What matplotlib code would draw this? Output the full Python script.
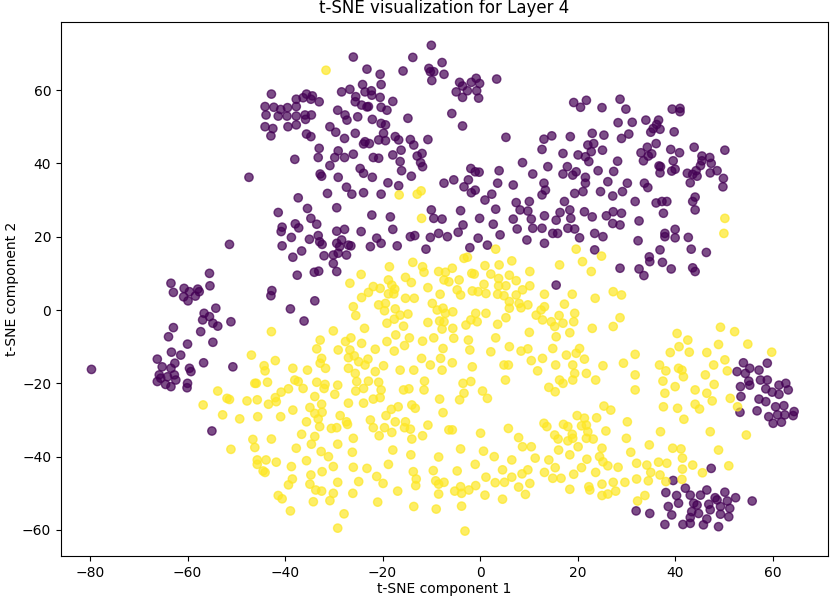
import numpy as np
import matplotlib
matplotlib.use("Agg")
import matplotlib.pyplot as plt

title = "t-SNE visualization for Layer 4"
xlabel = "t-SNE component 1"
ylabel = "t-SNE component 2"

# class 0 (purple) – upper band
purple_top_left = [
    (-10,72.2),(-26,69),(-13.8,68.9),(-23.2,65.7),(-20.5,64.3),(-15.8,65.2),
    (-10.5,65.9),(-9.5,65),(-7.8,67.5),(-7.4,64.3),(-9.9,62.6),(-10.2,65),
    (-24.1,61.5),(-20.3,61.5),(-42.8,58.9),(-35.6,58.9),(-34.4,58.4),(-34.7,57.5),(-33,56.8),
    (-28.4,59.5),(-26.7,60.2),
    (-25.5,58.2),(-25.6,56.8),(-24.3,55.9),(-23.2,55.4),(-23.6,59.5),(-22.3,59.8),(-22.2,58.6),(-20.5,58),(-17.9,56.9),
    (-37.7,57.5),(-36.3,57.9),(-37.7,55.5),(-40.9,54.7),(-39.5,55.2),(-44.1,55.5),(-42.3,55.3),(-43.9,53.2),(-41.4,52.9),
    (-39.6,52.9),(-37.7,52.9),(-35.9,53.2),(-34.6,53.2),(-35.8,52),(-44.1,50),(-42.5,49.5),(-42.9,47.5),(-39.4,50),
    (-37.7,50.5),(-35.6,48),(-34.7,47.3),
    (-29.2,54.5),(-27.7,53.2),(-27.3,51.8),(-25.1,52.7),(-22.9,55.5),(-20.3,55.3),(-19.1,54.5),(-22.1,52),(-20.3,50.9),
    (-19.4,50.5),(-19.8,48.2),(-20.8,46.4),(-17.4,47.3),(-16.7,46.4),(-14.3,46.5),(-13.6,45),(-10.7,46.5),(-14.8,52.3),
    (-25.6,48.2),(-27.8,46.8),(-30.8,50),(-29.6,48.5),(-23.6,45.9),(-23.9,45.3),(-22.7,45.4),(-19.4,46.2),
    (-38,41.1),(-33,44.1),(-33.2,41.6),(-30.8,39.4),(-29.8,41.6),(-29.1,43.4),(-27.8,41.6),(-26,42.5),(-21.9,41.6),
    (-20.8,41.4),(-17.9,42.3),(-16.2,43.6),(-16.4,40.5),(-16.1,38),(-12.9,42),(-11.9,42.7),(-12.2,40.2),(-11.8,39.1),
    (-14.1,36.5),(-18.9,34.7),(-16.7,33.9),(-22.1,36.2),(-24.6,38.6),(-23.9,37.3),(-29.1,36.2),(-32.8,37.1),(-32.5,36.5),
    (-27.4,33.5),(-26.3,31.6),(-23.9,32),(-20.3,31.6),(-31.3,31.8),(-37.3,30.6),(-47.4,36.2),(-7.4,34.6),
]

purple_top_mid = [
    (-4.2,62.1),(-3.6,61.1),(-4.9,59.5),(-3.6,58),(-2.6,59.8),(-1.8,62.1),(-0.8,63.2),(-0.1,61.8),(-0.7,59.8),(-0.3,57.8),
    (3.4,63),(-5.8,53.6),(-3.6,50.2),(5.3,47.1),
    (19.2,56.6),(21.8,57.2),(20.6,55.3),(25,55.2),(28.7,57.5),(29.9,54.8),(28.3,51.1),(31.2,51.2),(29,46.8),(30.5,48),
    (13.1,46.6),(14.7,47.5),(12.7,43.8),(18.5,47.3),(17,42.7),(20.1,42.3),(23,48.2),(25.4,47.7),(22.1,45),(23.3,45.4),
    (22.8,43.2),(25.1,43.6),(21.6,41.8),(22.3,40.5),(28.2,40.6),(24.2,38),(27.4,37.8),(17.9,39.1),(17,37.1),(19,36.8),
    (19.7,37.7),(21.6,36.2),(21.6,34.6),(26.2,35),(30.2,34.6),
    (8.7,40.2),(10.8,37.1),(13.9,39.1),(13.1,34.6),(13.4,32.7),(12.7,31.4),(6.8,34.1),(3.6,34.6),(3.9,38),(2.4,31.6),
    (1,30),(-1.9,38.6),(-1,37.7),(-0.2,37.6),(-2.4,35.5),(-3.3,33.6),(-1.8,32),(-1,32.7),(-5.4,35.5),(7.4,29.3),
    (10.1,29.6),(17.3,29.6),(19.4,31.8),(21.1,32.3),(24.7,32.3),(27.2,31.1),(29.2,32.3),(31.8,29.6),
]

purple_top_right = [
    (39.4,54.8),(41,55),(41,54.1),(34,51.8),(36.6,51.8),(36.2,50.6),(35.5,49.5),(36.9,49.3),(35,48.5),(39.8,48.6),
    (36.1,45.4),(34.3,44.4),(33,42.9),(33.5,40.7),(34.5,42),(35.2,42.6),(39.1,43.8),(40.9,42.9),(43.9,44.4),(50.2,43.6),
    (39.6,40.7),(40,38.4),(36.7,39.3),(37,39.1),(36.9,37.4),(39.3,37.9),(45.5,42),(47.1,41.6),(45.5,40.7),(47.4,40),
    (45.2,39.4),(44.3,38),(48.6,38),(47.2,37.4),(42.5,37.3),(43.6,37),(44.5,36.5),(49.9,35.9),(49.8,33.6),(43.1,34.7),
    (33.7,34.6),(34.4,33.4),(36.1,29.2),(37.3,29.6),(38.3,29.6),(44.1,30.8),(43.6,29.6),(44.1,27.3),(37.6,26.4),
]

purple_left = [
    (-51.4,17.9),(-55.5,10),(-63.4,7.3),(-62.9,4.8),(-60.7,5.9),(-59.6,5),(-60.8,3.6),(-59.9,2.5),(-57.9,5.7),(-57.6,5),
    (-58.4,3.8),(-55.4,6.6),(-54.2,0.5),(-56.6,-0.9),(-56.9,-2.7),(-55.5,-1.8),(-54.8,-3.6),(-53.8,-4.4),(-51.1,-3.2),
    (-57.3,-5.9),(-54.8,-8.8),(-62.9,-4.8),(-63.9,-7.3),(-60,-9.3),(-63.3,-11.5),(-61.4,-12.3),(-66.2,-13.4),(-56.7,-14.4),
    (-50.7,-15.5),(-79.7,-16.2),(-65.2,-15.5),(-63.4,-15.9),(-62.6,-14.5),(-59.6,-15.9),(-59.3,-16.8),(-65.8,-17.7),
    (-64.1,-18.2),(-62.7,-17.7),
    (-66.2,-19.5),(-65.5,-18.6),(-64.5,-20.3),(-63.4,-20.9),(-62.4,-19.1),(-60,-20),(-60.1,-21.2),(-55,-33),
]

purple_mid = [
    (-41.4,26.6),(-35.4,27.7),(-29.4,27.9),(-34.7,25),(-33.5,23.4),(-37.9,23.5),(-37.2,22.4),(-40.6,22.6),(-40.8,21.4),
    (-38.7,19.8),(-40.6,17.5),(-35,19.3),(-33.2,20.3),(-32.9,18.6),(-32.4,17.9),(-29.4,21.5),(-27.8,22),(-29.4,18.2),
    (-28.4,19.1),(-28.8,17.3),(-27,17.7),(-27.4,15),(-29.1,15.5),(-30.1,15),(-30.1,12.7),(-32,14.8),(-26.5,17.5),
    (-24.4,21.4),(-22.2,25.9),(-22.5,17.3),(-21.2,19.6),(-20.3,18.2),(-18.4,25.4),(-17.9,22),(-17,17.5),(-14.3,20),
    (-13.4,20.3),(-11.1,16.6),(-10.2,19.8),(-8.5,20.9),(-6.7,20),(-10,27.3),(-9.5,25),(-7.8,24.8),(-36.6,16.1),
    (-38.4,14.4),(-37.5,9.5),(-34,10.3),(-33.1,10.6),(-29.4,10.5),(-33.9,2.5),(-42.7,5.3),(-42.9,3.9),(-38.9,0.3),(-36.1,-3),
    (-4,27.1),(-4.5,21.2),(-3.5,23.2),(-0.1,25),(3.2,27.5),(2.7,23.4),(-0.4,19.6),(-2.1,17),(1.5,17.7),(4.1,20.5),
    (6.8,24.8),(8.2,27.3),(7.6,22.1),(9.6,19.1),(9.8,27),(10.5,24.8),(10.8,22.3),(12.7,22.3),(13.2,25.7),(13.2,18.2),
    (14.9,20.9),(15.6,24.5),(16.4,26.6),(15.9,20.9),(18,22.3),(18.6,25),(18.4,27.3),(19.4,22.1),(20.4,19.7),(21.4,26.8),
    (23,25.4),(23.5,20.9),(25.2,20),(25.9,25.7),(27.3,26.8),(29,26.4),(27.2,23.6),(28.7,23.2),(23.5,16.4),(28.7,11.4),
    (32.6,11.2),(15.6,6.8),
    (32.6,24.3),(32.4,18.9),(37.9,20.9),(37.9,20),(40,22),(40,19.7),(42.7,19.8),(36.9,16.4),(34.7,14.5),(34.8,13.2),
    (33.6,9.4),(37.4,13),(39.2,11.2),(43.3,16.6),(46.4,15.7),(43.6,11.5),(44.1,10.5),
]

purple_right = [
    (54,-14.4),(58.9,-14.5),(57.2,-16.4),(55.3,-15.9),(52.7,-16.8),(54.4,-17.3),
    (53.4,-20.9),(53.5,-23.6),(53.3,-27.9),(55.1,-19.4),(55.3,-20.5),(57.5,-19.1),(58.9,-19.1),(58.6,-21.5),(59.9,-22.4),
    (61.3,-20.5),(62.7,-20),(63.2,-21.8),(61.3,-23),(57.2,-24.3),(58.6,-25),(56.8,-27.5),(60.6,-26.4),(62.3,-26.1),
    (64.4,-27.7),(59.2,-29.1),(61,-28.6),(62.5,-28.6),(64.2,-28.8),(60.1,-30.9),(61.8,-30.6),
]

purple_bottom_right = [
    (47.4,-43.2),(39.6,-46.5),(32,-54.8),
    (38.1,-49.8),(40.3,-50.6),(42.1,-48.6),(43.1,-50.5),(45.2,-50.5),(46.5,-49.1),(48.2,-51.2),(50.2,-49.7),(52.4,-51.2),
    (55.8,-52.1),(40.7,-52.7),(43.8,-52.7),(44.5,-53.2),(46.9,-53),(48.6,-51.8),(50.7,-52.1),(49.3,-53.6),(51.2,-54.1),
    (38.6,-53.6),(43.4,-55),(44.8,-55.5),(47.2,-54.5),(49.3,-55.7),(51,-56.4),(34.8,-55.5),(39.3,-55.9),(37.9,-58.5),
    (41.6,-58.5),(43.1,-58.2),(45.8,-58.6),(48.9,-59.1),(46.5,-57),(43.1,-56.6),
]

# class 1 (yellow)
yellow_upper = [
    (-31.6,65.4),(-16.6,31.4),(-12.9,31.6),(-12.1,32.5),(-46.9,-12.3),(50.2,25),(50,20.9),
    (-12,25),(-18.6,11.8),(-13.8,13),(-11.8,11.8),(-11.5,10.3),(-8.5,10.5),(-7.1,10.3),(-7.4,8.2),(-6.4,7.7),(-24.4,9.7),
    (-26.7,7.3),(-21.9,6.4),(-22.9,4.8),(-20.5,5.9),(-18.8,8.2),(-18.1,6.8),(-17.5,5.7),(-18.8,4.4),(-17.7,4.4),(-15.3,8.9),
    (-14.1,7.5),(-10.7,6.1),(-24.3,3.4),(-26,0.9),(-20.8,1.4),(-19.4,1.8),(-19.6,-0.2),(-17.4,0.3),(-16.4,-1.4),(-14.8,-1.1),
    (-15.3,3.2),(-13.5,3.2),(-9.8,1.8),(-8.2,4.3),(-8.8,0),(-7.1,-0.9),(-25.5,-1.5),(-19.1,-3.6),(-17.6,-2.5),(-15.7,-4.4),
    (-10.7,-3.4),(-8.3,-3),(-7.4,-3.2),(-7.8,-5.2),(-42.8,-5.9),(-30.1,-5.7),(-23.7,-5),(-32.8,-8.2),(-27.6,-8.6),(-26.5,-7.6),
    (-24.3,-9.1),(-19.1,-8.6),(-17.3,-6.8),(-14.5,-7.6),(-15.5,-9.7),(-11.8,-8.5),(-9.5,-7.6),(-7.6,-10.5),(-33.5,-10.6),
    (-29.1,-10.9),(-26.7,-10.9),(-21.5,-10.7),(-17.6,-11.2),
    (-42,-13.8),(-44.3,-15.2),(-44.1,-16.6),(-38.4,-15.9),(-35.4,-16.4),(-32.5,-13.2),(-32.8,-14.5),(-31.7,-15.9),(-27,-13),
    (-25.8,-12.5),(-24.9,-14.1),(-23.6,-15),(-23,-13.4),(-19.8,-15.2),(-21.5,-16.8),(-16.4,-16.4),(-13.6,-16.4),(-12,-13.2),
    (-10.2,-15),(-7.8,-16.4),(-8.1,-13.2),(-27,-15.9),(-25.6,-17.3),
]

yellow_center = [
    (3.2,16.6),(-3.3,14.1),(-2.6,14.4),(-5.7,11.4),(-4.3,8.2),(-4.7,5.5),(-4,4.1),
    (-1.7,10),(-1.2,9.8),(1,12.1),(3.9,12.3),(6.5,13.4),(2.2,9.8),(3.8,8.6),(6,9.5),(7.4,8),(10.2,10.5),(0.8,7),(-0.4,5),
    (-1.6,5.2),(1.2,4.5),(3.8,6.6),(3.6,4.3),(5.3,6.6),(6,2.3),(4.9,3.9),(7.4,4.1),(8,1.8),(8.7,5.5),(9.8,1.4),(10.2,6.6),
    (13.2,4.3),(13.2,0.9),(12.5,0),(16.3,12.3),(19.7,16.6),(21,13.2),(22.8,10.5),(24.9,14.7),(18.9,4.3),(17.3,1.6),
    (23.6,3.2),(27.3,5),(29,4.1),
    (-7.6,0.5),(-5.6,-0.5),(-5.6,-5),(-2.9,-4.1),(-1.9,-2.7),(-0.9,-0.9),(-0.6,-3.2),(1.2,-0.9),
    (3.6,-3.9),(5.3,-2.1),(6,0.5),(8.4,0.6),(11.5,-1.4),(12.8,-2.7),(14.6,-3.2),(16.2,-1.5),(17,-3.6),(15.3,-4.5),(19.4,-0.9),
    (19.2,-3.2),(18.4,-6.2),(15.6,-7.3),(10.1,-6.1),(3.2,-7.6),(6,-10),(8.4,-11.2),(9.8,-10.6),(2.2,-11.4),(-2.4,-8.2),
    (-5.4,-7.7),(-2.1,-10.9),(14.9,-10.5),(17.7,-12.3),(19.7,-11.8),(20.4,-10.5),(21.4,-13.4),(19,-15),(15.5,-15),
    (12.8,-13.2),(11.8,-16.6),(10.5,-13.8),(4.9,-15),(5.8,-15),(-1.6,-15.5),(-5.7,-14.4),(23,-5),(27.3,-4.5),(28.7,-2.1),
    (25.2,-15.2),(29.4,-14.5),(31.8,-12.1),(19.4,-17.3),(21.8,-17.3),
    (49.3,-4.7),(52.2,-5.9),(40.4,-6.4),(42.6,-8.2),(40.8,-10),(48.9,-9.4),(54.9,-9.3),(39,-11.6),(42.9,-11.5),(46.5,-11.6),
    (36.8,-15),(38.1,-16.6),(40.7,-15.9),(41.4,-16.4),(47.9,-15),(50.2,-13.6),(50.7,-16.6),(59.8,-11.5),(31.8,-17.7),
    (46.2,-17.7),(41.7,-18.2),
]

yellow_lower_left = [
    (-53.8,-22.1),(-51.9,-24.1),(-51.4,-24.4),(-56.8,-25.9),(-47.8,-24.8),(-46.2,-20),(-52.8,-28.6),(-49.3,-29.7),
    (-45.7,-24.5),(-45.6,-29.1),(-46.6,-35.3),(-46.2,-37.5),(-51.1,-38),(-45.7,-40.9),(-45.7,-42.1),
    (-45.9,-20),(-43.6,-19.7),(-43.4,-25.7),(-42,-23.9),(-41.8,-25),(-40.8,-22.4),(-39.3,-21.5),(-38,-19.1),(-37.3,-19.5),
    (-36.3,-21.4),(-38.4,-27.3),
    (-33.5,-19.7),(-31.8,-20.3),(-32,-21.4),(-29.2,-20.5),(-33.9,-23.6),(-34.9,-26.6),(-32.5,-25.7),(-33.9,-28.2),
    (-32.4,-27.9),(-33.2,-29.7),(-32.9,-31.8),(-35.6,-30.5),(-29.8,-23),(-27,-25.4),(-25.3,-19.5),(-25.5,-22.1),
    (-23.9,-21.4),(-22.9,-19.4),(-20.8,-19.7),(-20.3,-21.8),(-20.5,-23.9),(-21.9,-24.3),(-23.9,-25.4),(-28.7,-28.8),
    (-30.5,-32.3),(-29.4,-32.1),(-27.2,-31.2),(-27.4,-30.5),
    (-40.9,-29.1),(-42.8,-35.2),(-43.9,-40.9),(-41.8,-41.5),(-44.5,-43.9),(-44.1,-44.3),
    (-36.6,-33.9),(-33.9,-34.5),(-34.6,-36.6),(-37.7,-37.7),(-32.6,-38.6),(-31.1,-40),(-35.6,-41.1),(-29.2,-36.6),(-26,-35),
    (-26.2,-38.8),(-30.1,-42.7),(-32.4,-44.1),(-34.7,-45),(-38.7,-42.7),(-38.5,-46.1),(-39.3,-47.7),(-34.9,-47.5),
    (-33.7,-49.1),(-32.5,-49.4),(-30.1,-50),(-29.2,-47),(-30.8,-52),(-34.2,-52.3),(-41.4,-50.6),(-40.6,-51.5),(-38.9,-54.8),
    (-27.9,-55.6),(-29.2,-59.5),(-26,-42.9),(-24.9,-46.8),(-26.1,-50),
    (-23.2,-43.2),(-21.2,-45.4),(-19.9,-47.3),(-21,-52.4),(-18.8,-42.1),(-17.9,-38.2),(-16.9,-49.4),(-19.6,-32.1),
    (-18.1,-33.4),(-20.7,-34.3),(-22.5,-30),(-21.9,-32.1),(-19.3,-28.8),(-18.2,-27.1),(-16.8,-26.4),(-17.4,-30.5),
    (-15.3,-30.5),(-15.5,-32.1),(-14,-35.2),(-14.3,-32.5),(-14,-25.9),(-13.3,-26.8),(-15.7,-21.8),(-14.6,-21.5),
    (-11.5,-21.8),(-11.4,-19.4),(-8.3,-24.3),(-7.6,-28),(-10.7,-31.4),(-11.8,-34.3),(-14.2,-39.5),(-13.7,-44.1),
    (-13.1,-46.1),(-13.2,-47.9),(-13.6,-53.6),(-9.6,-43.8),(-9.1,-46.6),(-8.5,-47.5),(-7.4,-47),(-8.5,-50.2),(-9,-54.3),
    (-8.5,-40.1),(-6.4,-32.7),
]

yellow_lower_right = [
    (-3.5,-20),(-1.9,-19.5),(-3.3,-22.7),(0.5,-22.1),(1.5,-24.1),(-4.2,-24.5),(5.2,-19.1),
    (-5.7,-32.7),(-4,-37.9),(0.1,-33.6),(0.7,-38.5),(5.8,-32.3),(7.9,-34.8),(8.7,-37.3),(10.5,-37.3),(2.9,-40),(6.5,-40.9),
    (11.3,-40.4),(-1,-42.1),(-4.7,-43.9),(1.2,-45.6),(4.6,-43.6),(6.5,-45.6),(8.6,-44.7),(9.8,-43.6),(3.1,-47.1),(5,-47),
    (7.9,-48.3),(10.2,-47.3),(9.3,-50.3),(4.6,-51.6),(1,-50.5),(-0.9,-47.9),(-2.3,-49.1),(-4,-48.2),(-3.8,-50),(-5.2,-49.4),
    (-3.8,-53.5),(-3.1,-60.3),
    (14.1,-21.1),(15.4,-22.3),(16.3,-19.1),(17,-20),(19,-19.1),(23.7,-19.1),(31.8,-21.8),
    (25.4,-26.2),(26.8,-27.3),(19.9,-28.8),(21.4,-29.5),(23.9,-29.4),(21.8,-31.4),(20.8,-31.6),(22.1,-33.2),(21.8,-35),
    (23.2,-35.2),(25.8,-33),(30.2,-30.5),(30,-35),(30.9,-38.8),(32.1,-41.8),(32.1,-46.1),(32.3,-52.1),(25,-37.7),(24.5,-40),
    (25.2,-41.4),(26.2,-42.5),(28.3,-42.9),(29.7,-47),(27.3,-47),(27.8,-49.4),(25,-47.5),(25,-50.6),(26.2,-50.2),
    (22.3,-48.2),(22.5,-49.1),(20.8,-43),(23.7,-44.3),(21.9,-40.7),(19.2,-44.8),(18.4,-48.9),(20.1,-37.3),(18.4,-39.5),
    (16.1,-38.2),(18,-35.7),(15.3,-34.1),(16,-35.2),(18.9,-33.9),(19,-35),(17.1,-31.2),(18,-31.8),(13.1,-30.9),(13.7,-31.8),
    (14.1,-40.9),(15.4,-43),(13.2,-44.3),(14.9,-45.9),(16.6,-45.9),
    (37.5,-19.4),(40,-20.9),(37.9,-22.7),(44.1,-21.8),(46.5,-22.7),(47.6,-24.8),(48,-20.3),(51.3,-24.1),(52.8,-26.4),
    (37.6,-26.4),(40.5,-26.8),(44.1,-25.7),(45,-27),(41.8,-29.8),(37,-33.2),(47.2,-33.2),(54.6,-34.1),(34.7,-36.8),
    (39.5,-37.7),(41.2,-37.9),(41.5,-40.4),(48.9,-38.2),(43.6,-42.3),(41.5,-43.4),(45.6,-44.4),(51,-42.5),(34.2,-42.3),
    (36.6,-41.5),(38.3,-41.8),(35,-44.3),(36.9,-45),(34.5,-46.6),(38.1,-46.8),(41.4,-46.2),(33.8,-50.6),
]

purple = (purple_top_left + purple_top_mid + purple_top_right + purple_left
          + purple_mid + purple_right + purple_bottom_right)
yellow = yellow_upper + yellow_center + yellow_lower_left + yellow_lower_right

pts = np.array(purple + yellow, dtype=float)
labels = np.array([0] * len(purple) + [1] * len(yellow))

fig = plt.figure(figsize=(8.3, 6), dpi=100)
ax = fig.add_axes([61/830, 1 - 556/600, (828-61)/830, (556-21.5)/600])
ax.scatter(pts[:, 0], pts[:, 1], c=labels, cmap="viridis", alpha=0.7)
ax.set_xlim(-85.95, 71.35)
ax.set_ylim(-67.1, 78.7)
ax.set_title(title)
ax.set_xlabel(xlabel, labelpad=2)
ax.set_ylabel(ylabel, labelpad=2)
fig.savefig("out.png", dpi=100)
